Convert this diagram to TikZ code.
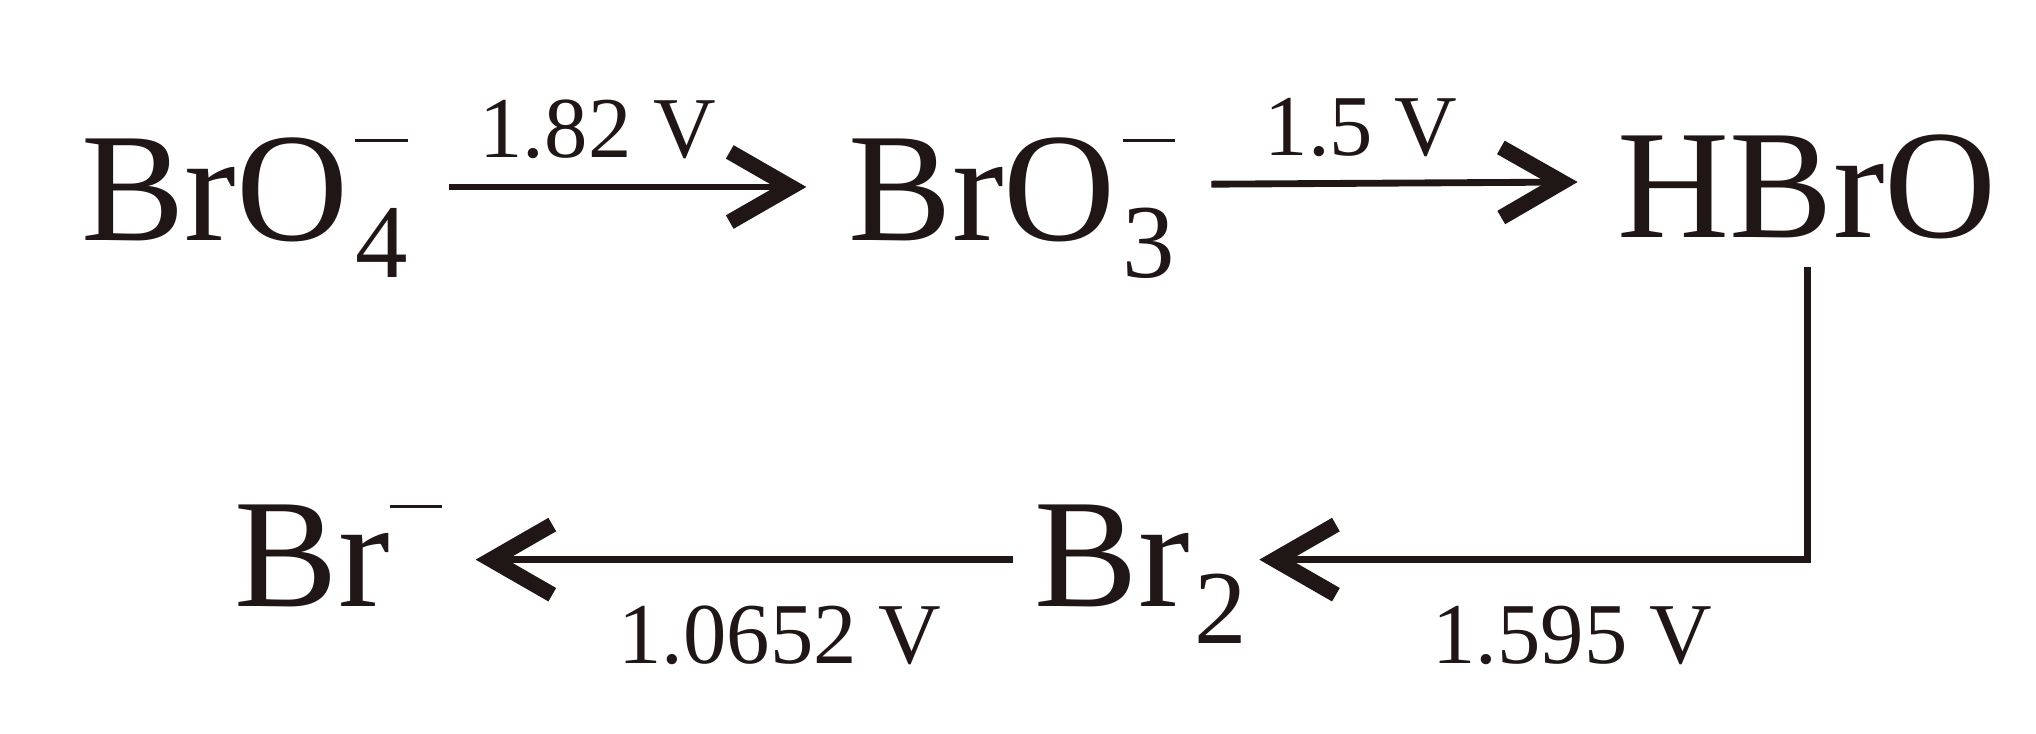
\documentclass[tikz,border=0pt]{standalone}
\usepackage{fontspec}
\setmainfont{Liberation Serif}
\usetikzlibrary{arrows.meta}
\definecolor{ink}{RGB}{32,22,22}
\newcommand{\subfont}{\fontsize{23}{23}\selectfont}
\newcommand{\ionminus}{\raisebox{21.5pt}{\rule{11.5pt}{0.7pt}}}
\newcommand{\ionsub}[1]{\kern1.5pt\rlap{\raisebox{-8.2pt}{\subfont #1}}\ionminus}
\newcommand{\molsub}[1]{\kern1pt\raisebox{-8.2pt}{\subfont #1}}
\begin{document}
\begin{tikzpicture}[
  species/.style={inner sep=0pt, anchor=base west, text=ink, font=\fontsize{34}{34}\selectfont},
  lbl/.style={inner sep=0pt, text=ink, font=\fontsize{19}{19}\selectfont},
  arr/.style={draw=ink, line width=1.5pt, -{Straight Barb[length=0.47cm, width=0.54cm, line width=3.4pt]}}]
\useasboundingbox (0,0) rectangle (15.68,5.65);
% top row
\node[species] (bro4) at (0.62,3.80) {BrO\ionsub{4}};
\node[species] (bro3) at (6.53,3.80) {BrO\ionsub{3}};
\node[species] (hbro) at (12.45,3.82) {HBrO};
% bottom row
\node[species] (br2) at (7.96,0.98) {Br\molsub{2}};
\node[species] (brm) at (1.80,0.98) {Br\ionminus};
% arrows
\draw[arr, shorten <=0.31cm, shorten >=0.32cm] ([yshift=0.41cm]bro4.base east) -- ([yshift=0.41cm]bro3.base west)
  node[lbl, above=0.19cm, pos=0.43] (e1) {1.82 V};
\draw[arr, shorten <=0.27cm, shorten >=0.30cm] ([yshift=0.43cm]bro3.base east) -- ([yshift=0.43cm]hbro.base west)
  node[lbl, above=0.18cm, pos=0.42] (e2) {1.5 V};
\draw[arr, shorten <=0.21cm, shorten >=0.09cm] (hbro.south) |- ([yshift=0.36cm]br2.base east)
  node[lbl, below=0.33cm, pos=0.71] (e3) {1.595 V};
\draw[arr, shorten <=0.16cm, shorten >=0.25cm] ([yshift=0.36cm]br2.base west) -- ([yshift=0.36cm]brm.base east)
  node[lbl, below=0.33cm, pos=0.43] (e4) {1.0652 V};
\end{tikzpicture}
\end{document}
